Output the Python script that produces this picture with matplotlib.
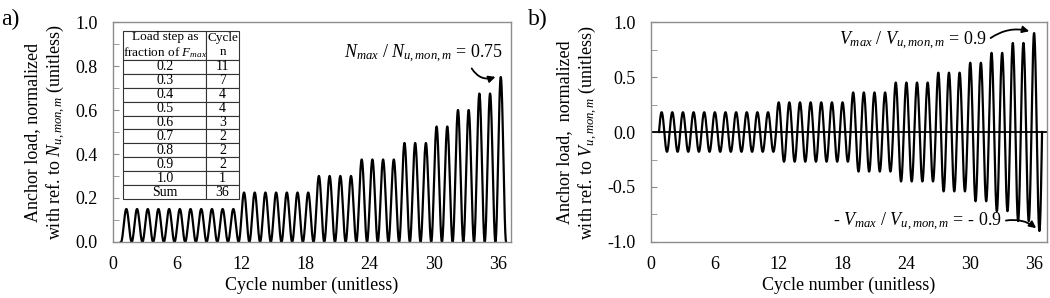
import numpy as np
import matplotlib
matplotlib.use('Agg')
import matplotlib.pyplot as plt
from matplotlib.ticker import MultipleLocator

plt.rcParams['font.family'] = ['Liberation Serif', 'DejaVu Serif']
plt.rcParams['mathtext.fontset'] = 'custom'
plt.rcParams['mathtext.rm'] = 'Liberation Serif'
plt.rcParams['mathtext.it'] = 'Liberation Serif:italic'

# Loading protocol: load step (fraction of F_max) and number of cycles
load_steps = [0.2, 0.3, 0.4, 0.5, 0.6, 0.7, 0.8, 0.9, 1.0]
cycle_counts = [11, 7, 4, 4, 3, 2, 2, 2, 1]
step_labels = ['0.2', '0.3', '0.4', '0.5', '0.6', '0.7', '0.8', '0.9', '1.0']
n_ratio = 0.75   # N_max / N_u,mon,m
v_ratio = 0.9    # V_max / V_u,mon,m
start_cycle = 0.75
xticks = [0, 6, 12, 18, 24, 30, 36]

GRAY = '#8c8c8c'


def make_wave(peak, alternating):
    t, y = [], []
    k = 0
    for step, n in zip(load_steps, cycle_counts):
        amp = step * peak
        for _ in range(n):
            tt = np.linspace(0, 1, 80)
            t.append(start_cycle + k + tt)
            if alternating:
                y.append(amp * np.sin(2 * np.pi * tt))
            else:
                y.append(amp * (1 - np.cos(2 * np.pi * tt)) / 2)
            k += 1
    return np.concatenate(t), np.concatenate(y)


def style_axes(ax):
    for s in ax.spines.values():
        s.set_color(GRAY)
        s.set_linewidth(1.0)
    ax.tick_params(axis='y', which='both', direction='in', color=GRAY, labelsize=13, pad=11)
    ax.tick_params(axis='y', which='major', length=4)
    ax.tick_params(axis='y', which='minor', length=4)
    ax.tick_params(axis='x', length=0, labelsize=13, pad=10)
    ax.set_xlim(0, 37.2)
    ax.set_xticks(xticks)
    ax.set_xlabel('Cycle number (unitless)', fontsize=13, labelpad=3)


fig = plt.figure(figsize=(10.5, 2.98), dpi=100)

# a) tension
ax1 = fig.add_axes([0.1076, 0.188, 0.379, 0.738])
t, y = make_wave(n_ratio, False)
ax1.plot(t, y, color='black', lw=1.6)
ax1.set_ylim(0, 1.0)
ax1.yaxis.set_major_locator(MultipleLocator(0.2))
ax1.yaxis.set_minor_locator(MultipleLocator(0.1))
ax1.yaxis.set_major_formatter(matplotlib.ticker.FormatStrFormatter('%.1f'))
style_axes(ax1)
ax1.set_ylabel('Anchor load, normalized\nwith ref. to $N_{u,mon,m}$ (unitless)', fontsize=13, labelpad=6)

ax1.text(36.5, 0.855, r'$N_{max}$ / $N_{u,mon,m}$ = 0.75', ha='right', va='center', fontsize=13)
ax1.annotate('', xy=(36.0, 0.755), xytext=(33.4, 0.80),
             arrowprops=dict(arrowstyle='-|>', connectionstyle='arc3,rad=0.45',
                             color='black', lw=1.3, mutation_scale=10))

# table of loading steps
rows = [[s, str(c)] for s, c in zip(step_labels, cycle_counts)] + [['Sum', str(sum(cycle_counts))]]
tab = ax1.table(cellText=rows,
                colLabels=['Load step as\nfraction of $F_{max}$', 'Cycle\nn'],
                colWidths=[0.72, 0.28], cellLoc='center',
                bbox=[0.026, 0.195, 0.29, 0.765])
tab.auto_set_font_size(False)
tab.set_fontsize(10)
hdr_h = 0.765 * 29 / 168
row_h = (0.765 - hdr_h) / 10
for (r, c), cell in tab.get_celld().items():
    cell.set_edgecolor('#333333')
    cell.set_linewidth(0.8)
    cell.set_height(hdr_h if r == 0 else row_h)
    cell.PAD = 0.01
    if r == 0:
        cell.get_text().set_fontsize(9.5)

# b) shear
ax2 = fig.add_axes([0.62, 0.188, 0.377, 0.738])
t, y = make_wave(v_ratio, True)
ax2.axhline(0, color='black', lw=1.3)
ax2.plot(t, y, color='black', lw=1.6)
ax2.set_ylim(-1.0, 1.0)
ax2.yaxis.set_major_locator(MultipleLocator(0.5))
ax2.yaxis.set_minor_locator(MultipleLocator(0.25))
ax2.yaxis.set_major_formatter(matplotlib.ticker.FormatStrFormatter('%.1f'))
style_axes(ax2)
ax2.set_ylabel('Anchor load,  normalized\nwith ref. to $V_{u,mon,m}$ (unitless)', fontsize=13, labelpad=6)

ax2.text(31.6, 0.83, r'$V_{max}$ / $V_{u,mon,m}$ = 0.9', ha='right', va='center', fontsize=13)
ax2.annotate('', xy=(35.8, 0.91), xytext=(31.7, 0.84),
             arrowprops=dict(arrowstyle='-|>', connectionstyle='arc3,rad=-0.25',
                             color='black', lw=1.3, mutation_scale=10))
ax2.text(33.0, -0.82, r'- $V_{max}$ / $V_{u,mon,m}$ = - 0.9', ha='right', va='center', fontsize=13)
ax2.annotate('', xy=(36.4, -0.89), xytext=(33.1, -0.81),
             arrowprops=dict(arrowstyle='-|>', connectionstyle='arc3,rad=-0.25',
                             color='black', lw=1.3, mutation_scale=10))

fig.text(0.001, 0.935, 'a)', fontsize=17, ha='left', va='center')
fig.text(0.503, 0.935, 'b)', fontsize=17, ha='left', va='center')

fig.savefig('out.png', dpi=100)
